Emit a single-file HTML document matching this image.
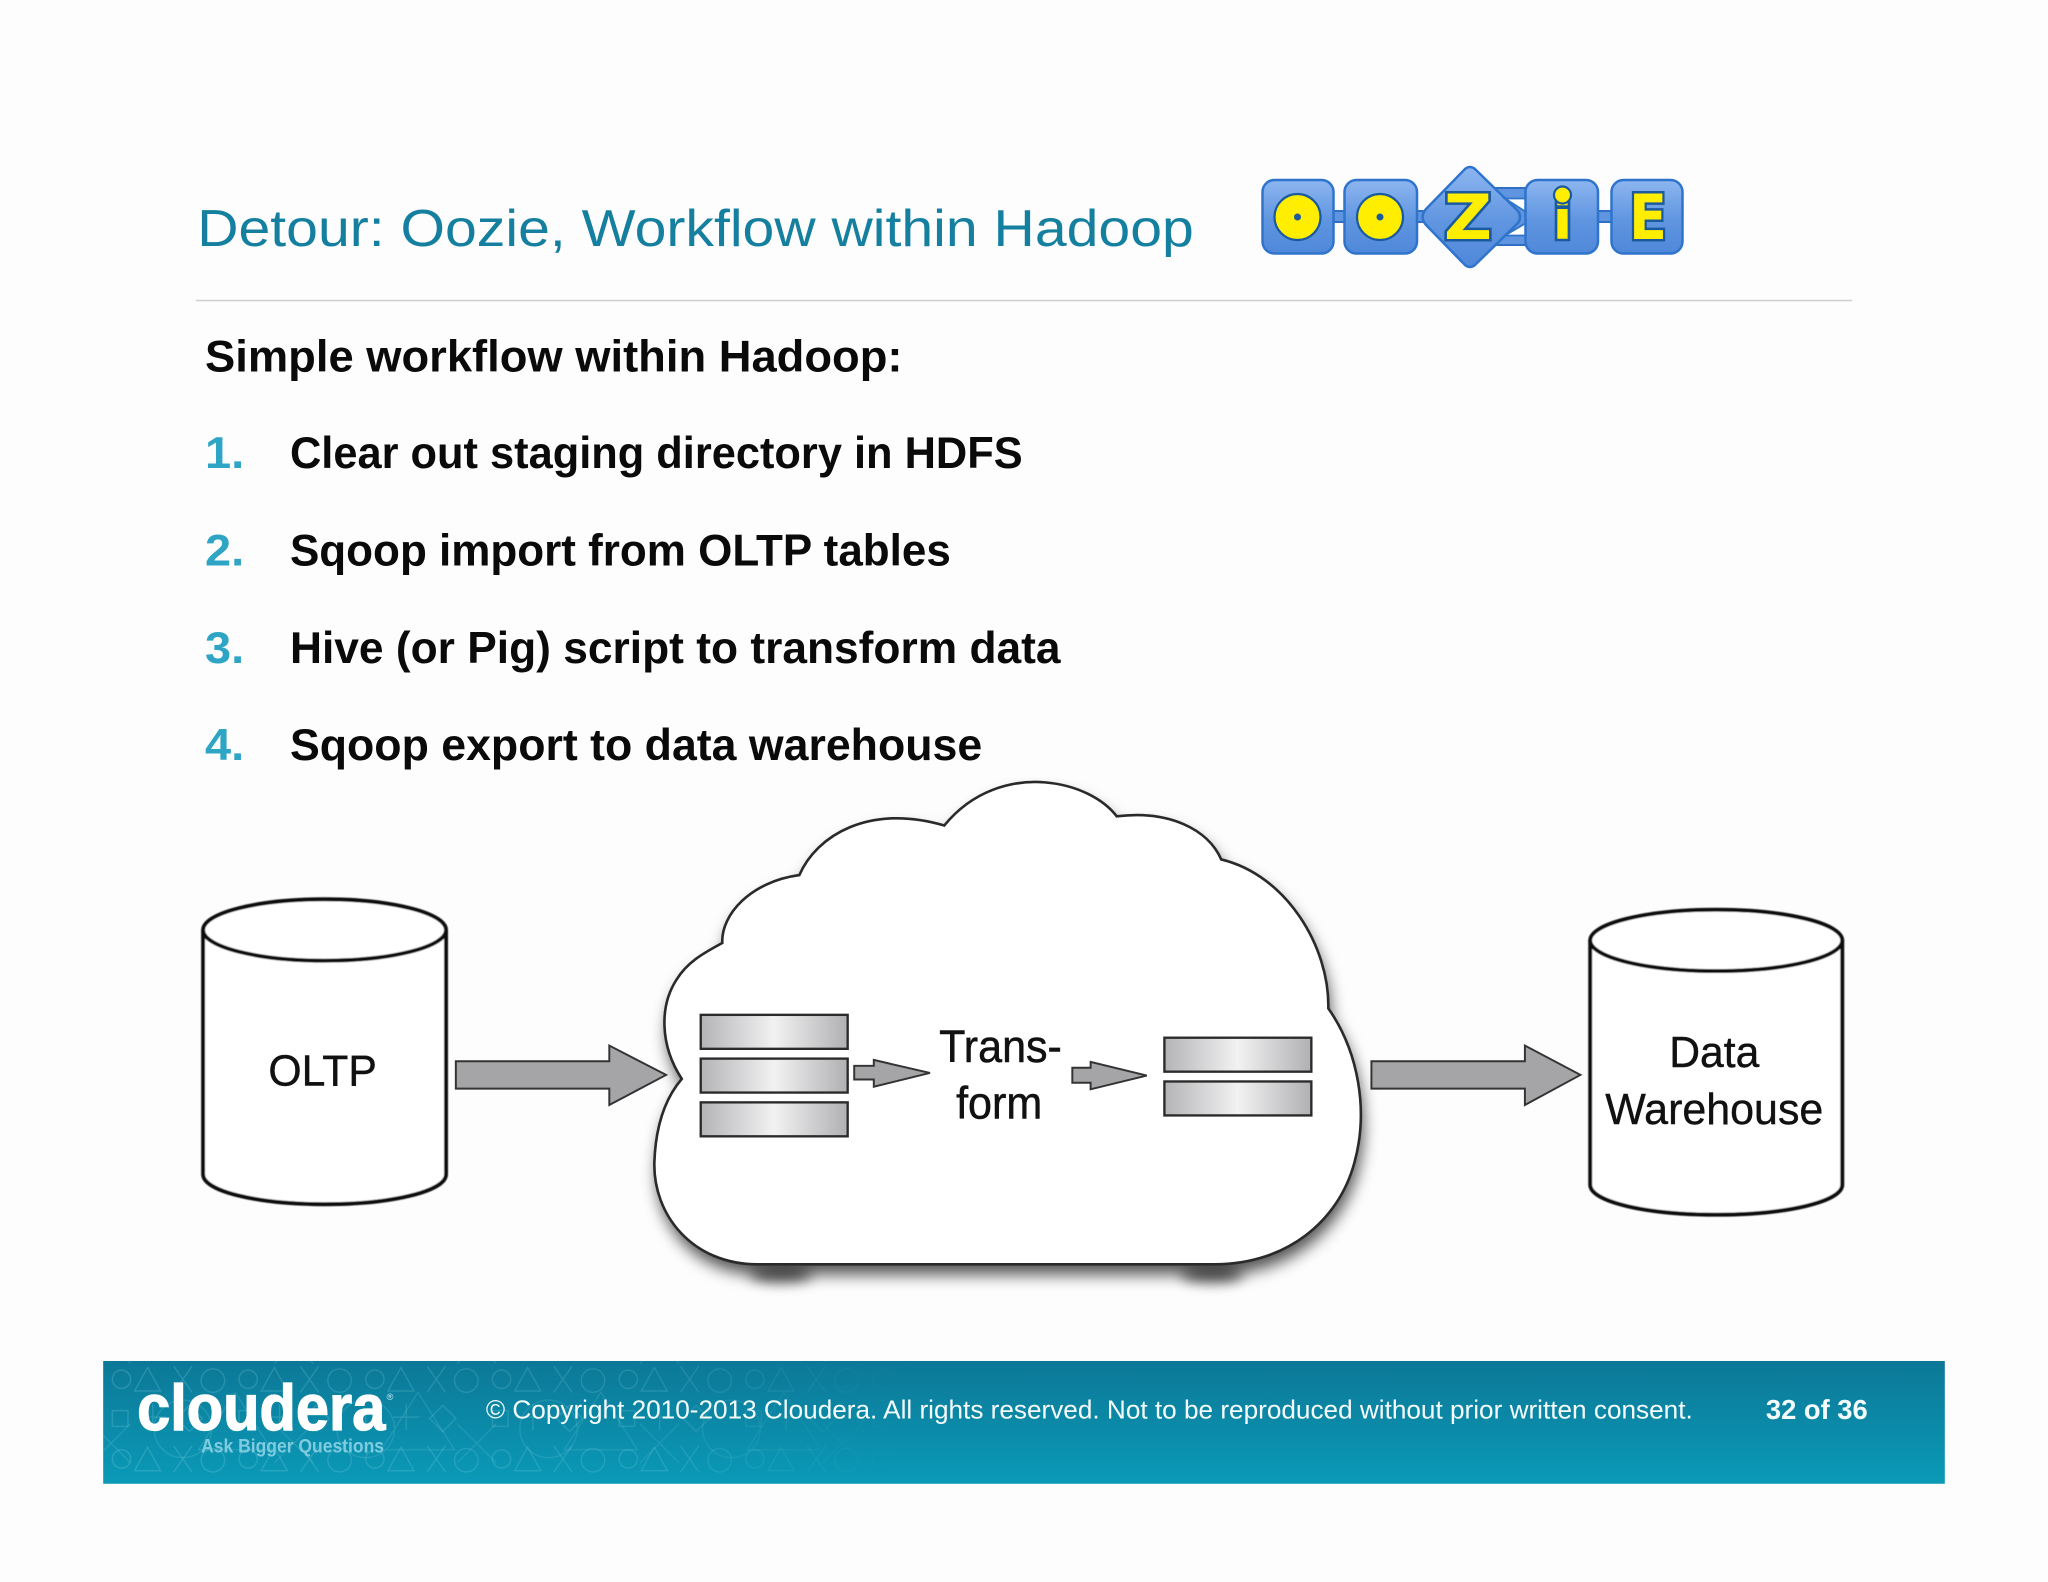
<!DOCTYPE html>
<html>
<head>
<meta charset="utf-8">
<style>
html,body{margin:0;padding:0;background:#fdfdfd;width:2048px;height:1582px;overflow:hidden}
svg{display:block}
text{font-family:"Liberation Sans",sans-serif}
</style>
</head>
<body>
<svg width="2048" height="1582" viewBox="0 0 2048 1582" xmlns="http://www.w3.org/2000/svg">
<defs>
  <linearGradient id="bar" x1="0" x2="1" y1="0" y2="0">
    <stop offset="0" stop-color="#b4b4b6"/><stop offset=".5" stop-color="#f2f2f3"/><stop offset="1" stop-color="#b0b0b2"/>
  </linearGradient>
  <linearGradient id="foot" x1="0" x2="0" y1="0" y2="1">
    <stop offset="0" stop-color="#0c7897"/><stop offset="1" stop-color="#0a9ab7"/>
  </linearGradient>
  <linearGradient id="tile" x1="0" x2="0" y1="0" y2="1">
    <stop offset="0" stop-color="#8db6f0"/><stop offset=".55" stop-color="#5f95e0"/><stop offset="1" stop-color="#5088da"/>
  </linearGradient>
  <linearGradient id="fade" x1="0" x2="1" y1="0" y2="0">
    <stop offset="0" stop-color="#fff"/><stop offset=".7" stop-color="#fff" stop-opacity=".8"/><stop offset="1" stop-color="#fff" stop-opacity="0"/>
  </linearGradient>
  <mask id="fm"><rect x="79" y="1042" width="620" height="94" fill="url(#fade)"/></mask>
  <pattern id="shapes" x="79" y="1042" width="97" height="61" patternUnits="userSpaceOnUse">
    <g fill="none" stroke="#9fe3f2" stroke-width="1" opacity=".22">
      <circle cx="14" cy="14" r="7"/>
      <path d="M34 5l10 18h-20zM54 4l14 20M68 4l-14 20"/>
      <circle cx="84" cy="15" r="9"/>
      <rect x="7" y="38" width="12" height="12"/>
      <path d="M38 33v20M28 43h20"/>
      <path d="M66 34l10 10-10 10-10-10z"/>
    </g>
  </pattern>
  <pattern id="shapes2" x="110" y="1060" width="140" height="76" patternUnits="userSpaceOnUse">
    <g fill="none" stroke="#a9e8f5" stroke-width="1" opacity=".16">
      <circle cx="30" cy="34" r="22"/>
      <path d="M70 6l28 44h-56zM100 30l30 30M130 30l-30 30"/>
    </g>
  </pattern>
  <filter id="cs" x="-10%" y="-10%" width="120%" height="125%">
    <feGaussianBlur stdDeviation="6"/>
  </filter>
  <filter id="soft" x="-30%" y="-150%" width="160%" height="400%">
    <feGaussianBlur stdDeviation="5"/>
  </filter>
  <filter id="sl"><feGaussianBlur stdDeviation="0.35"/></filter>
</defs>

<rect width="2048" height="1582" fill="#fdfdfd"/>

<g transform="scale(1.30612)">
  <!-- header -->
  <text x="151" y="188.500" font-size="40" fill="#147f9f" textLength="763" lengthAdjust="spacingAndGlyphs">Detour: Oozie, Workflow within Hadoop</text>
  <rect x="150" y="229.500" width="1268" height="1.200" fill="#cfcfcf"/>

  <!-- list -->
  <g font-weight="bold" font-size="34" fill="#0a0a0a">
    <text x="157" y="284.500" textLength="534" lengthAdjust="spacingAndGlyphs">Simple workflow within Hadoop:</text>
    <text x="222" y="358.500" textLength="561" lengthAdjust="spacingAndGlyphs">Clear out staging directory in HDFS</text>
    <text x="222" y="433" textLength="506" lengthAdjust="spacingAndGlyphs">Sqoop import from OLTP tables</text>
    <text x="222" y="507.500" textLength="590" lengthAdjust="spacingAndGlyphs">Hive (or Pig) script to transform data</text>
    <text x="222" y="582" textLength="530" lengthAdjust="spacingAndGlyphs">Sqoop export to data warehouse</text>
  </g>
  <g font-weight="bold" font-size="34" fill="#2ea5c5">
    <text x="157" y="358.500" textLength="30" lengthAdjust="spacingAndGlyphs">1.</text>
    <text x="157" y="433" textLength="30" lengthAdjust="spacingAndGlyphs">2.</text>
    <text x="157" y="507.500" textLength="30" lengthAdjust="spacingAndGlyphs">3.</text>
    <text x="157" y="582" textLength="30" lengthAdjust="spacingAndGlyphs">4.</text>
  </g>

  <!-- OLTP cylinder -->
  <g fill="#fff" stroke="#111" stroke-width="3" filter="url(#sl)">
    <path d="M155.500 712V899C155.500 912 197 922 248.500 922S341.500 912 341.500 899V712"/>
    <ellipse cx="248.500" cy="712" rx="93" ry="23.500"/>
  </g>
  <text x="247" y="831" font-size="33" text-anchor="middle" fill="#111" stroke="#111" stroke-width=".3" textLength="83" lengthAdjust="spacingAndGlyphs">OLTP</text>

  <!-- Warehouse cylinder -->
  <g fill="#fff" stroke="#111" stroke-width="3" filter="url(#sl)">
    <path d="M1217.500 720V907C1217.500 920 1260 930 1314 930S1410.500 920 1410.500 907V720"/>
    <ellipse cx="1314" cy="720" rx="96.500" ry="23.500"/>
  </g>
  <text x="1312.500" y="817" font-size="33" text-anchor="middle" fill="#111" stroke="#111" stroke-width=".3" textLength="69" lengthAdjust="spacingAndGlyphs">Data</text>
  <text x="1312.500" y="860.500" font-size="33" text-anchor="middle" fill="#111" stroke="#111" stroke-width=".3" textLength="167" lengthAdjust="spacingAndGlyphs">Warehouse</text>

  <!-- cloud shadow -->
  <path filter="url(#cs)" transform="translate(2 8)" fill="#000" fill-opacity=".66" d="M522 826C505 800 505 770 518 750C526 737 538 730 553 722C552 700 575 675 612 670C625 640 665 615 723 632C745 605 775 597 800 599C825 601 845 612 855 625C895 620 925 635 935 658C985 670 1018 725 1017 772C1040 805 1048 850 1037 890C1025 935 985 968 930 968H580C530 968 500 930 501 890C502 860 510 840 522 826Z"/>
  <ellipse cx="598" cy="976" rx="24" ry="6" fill="#000" opacity=".6" filter="url(#soft)"/>
  <ellipse cx="928" cy="976" rx="24" ry="6" fill="#000" opacity=".6" filter="url(#soft)"/>
  <!-- cloud -->
  <path fill="#fff" stroke="#2a2a2a" stroke-width="2" d="M522 826C505 800 505 770 518 750C526 737 538 730 553 722C552 700 575 675 612 670C625 640 665 615 723 632C745 605 775 597 800 599C825 601 845 612 855 625C895 620 925 635 935 658C985 670 1018 725 1017 772C1040 805 1048 850 1037 890C1025 935 985 968 930 968H580C530 968 500 930 501 890C502 860 510 840 522 826Z"/>

  <!-- arrows -->
  <g fill="#a5a5a7" stroke="#333" stroke-width="1.500">
    <path d="M349 812.500H466.500V800.500L510 823L466.500 846V833.500H349Z"/>
    <path d="M1050 812.500H1167.500V800.500L1210 823L1167.500 846V833.500H1050Z"/>
    <path d="M654 816H669V811.500L712 821.500L669 832V826.500H654Z"/>
    <path d="M821 817.500H835V813L878 823.500L835 834V829H821Z"/>
  </g>

  <!-- bars -->
  <g fill="url(#bar)" stroke="#2a2a2a" stroke-width="1.800">
    <rect x="536.500" y="777" width="112.500" height="26"/>
    <rect x="536.500" y="810.500" width="112.500" height="26"/>
    <rect x="536.500" y="844" width="112.500" height="26"/>
    <rect x="891.500" y="794.500" width="112.500" height="26"/>
    <rect x="891.500" y="828" width="112.500" height="26"/>
  </g>
  <text x="766" y="813" font-size="35" text-anchor="middle" fill="#111" stroke="#111" stroke-width=".4" textLength="94" lengthAdjust="spacingAndGlyphs">Trans-</text>
  <text x="765" y="856.500" font-size="35" text-anchor="middle" fill="#111" stroke="#111" stroke-width=".4" textLength="66" lengthAdjust="spacingAndGlyphs">form</text>

  <!-- footer -->
  <rect x="79" y="1042" width="1410" height="94" fill="url(#foot)"/>
  <rect x="79" y="1042" width="620" height="94" fill="url(#shapes)" mask="url(#fm)"/>
  <rect x="79" y="1042" width="620" height="94" fill="url(#shapes2)" mask="url(#fm)"/>
  <text x="105" y="1095" font-size="50" font-weight="bold" fill="#fff" stroke="#fff" stroke-width="1" textLength="190" lengthAdjust="spacingAndGlyphs">cloudera</text>
  <text x="296" y="1072" font-size="7" fill="#cfeef6">®</text>
  <text x="154" y="1112" font-size="15" font-weight="bold" fill="#7fcbe0" textLength="140" lengthAdjust="spacingAndGlyphs">Ask Bigger Questions</text>
  <text x="372" y="1086" font-size="20" fill="#f4fbfd" textLength="924" lengthAdjust="spacingAndGlyphs">© Copyright 2010-2013 Cloudera. All rights reserved. Not to be reproduced without prior written consent.</text>
  <text x="1352" y="1086.500" font-size="21" font-weight="bold" fill="#f4fbfd" textLength="78" lengthAdjust="spacingAndGlyphs">32 of 36</text>
</g>

<!-- Oozie logo (native pixel coordinates) -->
<g>
  <g fill="#5f95e0" stroke="#2f6fc4" stroke-width="2">
    <rect x="1330" y="211" width="18" height="11"/>
    <rect x="1413" y="211" width="14" height="11"/>
    <rect x="1594" y="211" width="20" height="11"/>
    <path d="M1490 188H1530V245H1490Z"/>
  </g>
  <g fill="url(#tile)" stroke="#2f74cc" stroke-width="2.500">
    <rect x="1262.500" y="180" width="71" height="73.500" rx="12"/>
    <rect x="1344.500" y="180" width="72.500" height="73.500" rx="12"/>
    <path d="M1465 169Q1470 165 1475 169L1518 211Q1522 217 1518 223L1475 265Q1470 269 1465 265L1427 226Q1418 217 1427 208Z"/>
  </g>
  <path d="M1505 198.500H1526V212Z M1526 223V235.500H1505Z" fill="#fff" stroke="#2f74cc" stroke-width="1.800"/>
  <g fill="url(#tile)" stroke="#2f74cc" stroke-width="2.500">
    <rect x="1525.500" y="180" width="72.500" height="73.500" rx="12"/>
    <rect x="1611.500" y="180" width="71" height="73.500" rx="12"/>
  </g>
  <g fill="#ffee00" stroke="#1b5a9e" stroke-width="2.200">
    <circle cx="1297.500" cy="217" r="23"/>
    <circle cx="1380" cy="217" r="23"/>
  </g>
  <circle cx="1297.500" cy="217" r="3.500" fill="#1b5a9e"/>
  <circle cx="1380" cy="217" r="3.500" fill="#1b5a9e"/>
  <g font-weight="bold" fill="#ffee00" stroke="#1b5a9e" stroke-width="5" style="paint-order:stroke" stroke-linejoin="miter">
    <text x="1468" y="239" text-anchor="middle" font-size="62" style="font-family:'DejaVu Sans',sans-serif" textLength="48" lengthAdjust="spacingAndGlyphs">Z</text>
    <text x="1648" y="239" text-anchor="middle" font-size="62" style="font-family:'DejaVu Sans',sans-serif" textLength="38" lengthAdjust="spacingAndGlyphs">E</text>
    <text x="1562.500" y="239" text-anchor="middle" font-size="54" style="font-family:'DejaVu Sans',sans-serif" textLength="20" lengthAdjust="spacingAndGlyphs">i</text>
  </g>
  <circle cx="1562.500" cy="195" r="8.500" fill="#ffee00" stroke="#1b5a9e" stroke-width="2.200"/>
</g>
</svg>
</body>
</html>
